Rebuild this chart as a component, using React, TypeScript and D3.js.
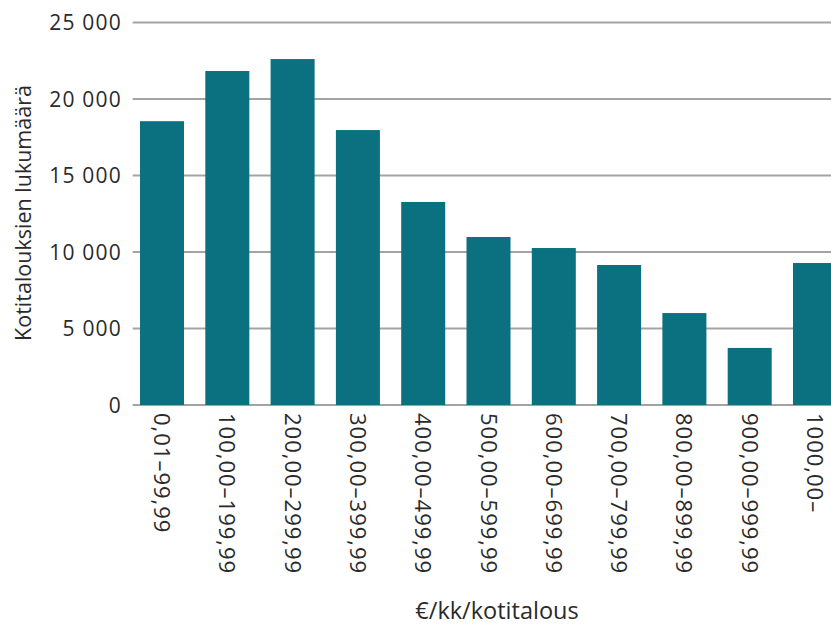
import React, { useEffect } from 'react';
import * as d3 from 'd3';

// household counts per monthly income bracket (€/kk/kotitalous)
const categories = [
  '0,01–99,99',
  '100,00–199,99',
  '200,00–299,99',
  '300,00–399,99',
  '400,00–499,99',
  '500,00–599,99',
  '600,00–699,99',
  '700,00–799,99',
  '800,00–899,99',
  '900,00–999,99',
  '1000,00–',
];

const households = [18550, 21830, 22610, 17970, 13270, 10980, 10260, 9150, 6010, 3730, 9280];

const yTicks = [0, 5000, 10000, 15000, 20000, 25000];

const yTitle = 'Kotitalouksien lukumäärä';
const xTitle = '€/kk/kotitalous';

const W = 831;
const H = 628;
const FONT = '"Open Sans", "Noto Sans", sans-serif';
const BAR = '#0b7080';
const GRID = '#a3a3a3';
const INK = '#2a2a2a';

const fi = d3.formatLocale({
  decimal: ',',
  thousands: '\u00a0',
  grouping: [3],
  currency: ['', ' €'],
});
const fmt = fi.format(',d');

const App: React.FC = () => {
  useEffect(() => {
    document.body.style.margin = '0';
  }, []);

  const left = 132.7;
  const x = d3.scaleBand<string>()
    .domain(categories)
    .range([left, 844.3])
    .paddingInner(0.326)
    .paddingOuter(0.112);

  const y = d3.scaleLinear().domain([0, 25000]).range([405, 22.5]);

  return (
    <svg width={W} height={H} style={{ display: 'block', background: '#fff' }} fontFamily={FONT}>
      {/* gridlines */}
      {yTicks.map(t => (
        <line key={t} x1={left} x2={W} y1={y(t)} y2={y(t)} stroke={GRID} strokeWidth={1.8} />
      ))}

      {/* bars */}
      {households.map((v, i) => (
        <rect
          key={categories[i]}
          x={x(categories[i])}
          y={y(v)}
          width={x.bandwidth()}
          height={y(0) - y(v)}
          fill={BAR}
        />
      ))}

      {/* y tick labels */}
      {yTicks.map(t => (
        <text key={t} x={122} y={y(t)} dy="0.38em" textAnchor="end" fontSize={21} letterSpacing={1.2} fill={INK}>
          {fmt(t)}
        </text>
      ))}

      {/* x tick labels, rotated */}
      {categories.map(c => (
        <text
          key={c}
          transform={`translate(${(x(c) ?? 0) + x.bandwidth() / 2},413) rotate(90)`}
          dy="0.36em"
          fontSize={22}
          letterSpacing={1}
          fill={INK}
        >
          {c}
        </text>
      ))}

      <text transform="translate(31,213) rotate(-90)" textAnchor="middle" fontSize={21.5} fill={INK}>
        {yTitle}
      </text>

      <text x={497} y={619} textAnchor="middle" fontSize={23.5} fill={INK}>
        {xTitle}
      </text>
    </svg>
  );
};

export default App;
